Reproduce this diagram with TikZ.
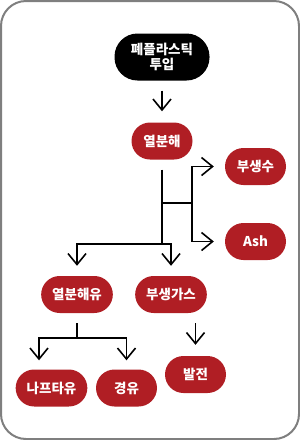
\documentclass[tikz,border=0pt]{standalone}
\usepackage{fontspec}
\setmainfont{Noto Sans CJK KR}
\usetikzlibrary{arrows.meta}
\definecolor{stepcolor}{HTML}{B01E24}
\definecolor{framecolor}{HTML}{7F7F7F}
\tikzset{
  flow frame/.style={draw=framecolor,line width=2pt,rounded corners=25pt},
  flow start/.style={fill=black,text=white,rounded corners=23pt,minimum width=95pt,minimum height=47pt,align=center,font=\bfseries\fontsize{13.5}{15.5}\selectfont},
  flow step/.style={fill=stepcolor,text=white,rounded corners=18.5pt,minimum width=61pt,minimum height=37pt,inner xsep=11pt,font=\bfseries\fontsize{13.5}{15}\selectfont},
  flow line/.style={line width=1.6pt},
  flow arrow/.style={flow line,-{Straight Barb[length=11pt,width=18pt]}}
}

\begin{document}
\begin{tikzpicture}[x=1pt,y=-1pt]
  \useasboundingbox (0,0) rectangle (300,440);
  \draw[flow frame] (1,1) rectangle (299,439);
  % nodes
  \node[flow start] (input) at (162,57) {폐플라스틱\\투입};
  \node[flow step] (pyro) at (162,141) {열분해};
  \node[flow step] (water) at (255.5,166.5) {부생수};
  \node[flow step] (ash) at (255.5,241.5) {Ash};
  \node[flow step] (oil) at (77,294.5) {열분해유};
  \node[flow step] (gas) at (171,294.5) {부생가스};
  \node[flow step] (naphtha) at (51.5,388) {나프타유};
  \node[flow step] (diesel) at (126.5,388) {경유};
  \node[flow step] (power) at (195.5,374.5) {발전};
  % junctions
  \coordinate (split) at (162,203);
  \coordinate (side) at (192,203);
  \coordinate (fork) at (162,244);
  \coordinate (oil fork) at (77,338);
  % connectors
  \draw[flow arrow,shorten <=10pt,shorten >=11pt] (input) -- (pyro);
  \draw[flow line,shorten <=10pt] (pyro) -- (fork);
  \draw[flow line] (split) -- (side);
  \draw[flow arrow,shorten >=11pt] (side) |- (water);
  \draw[flow arrow,shorten >=11pt] (side) |- (ash);
  \draw[flow arrow,shorten >=10pt] (fork) -| (oil);
  \draw[flow arrow,shorten >=10pt] (fork) -| (gas);
  \draw[flow line,shorten <=10pt] (oil) -- (oil fork);
  \draw[flow arrow,shorten >=9pt] (oil fork) -| ([xshift=-12.5pt]naphtha.north);
  \draw[flow arrow,shorten >=9pt] (oil fork) -| (diesel);
  \draw[flow arrow,shorten <=10pt,shorten >=11pt] (gas.south -| power) -- (power);
\end{tikzpicture}
\end{document}
